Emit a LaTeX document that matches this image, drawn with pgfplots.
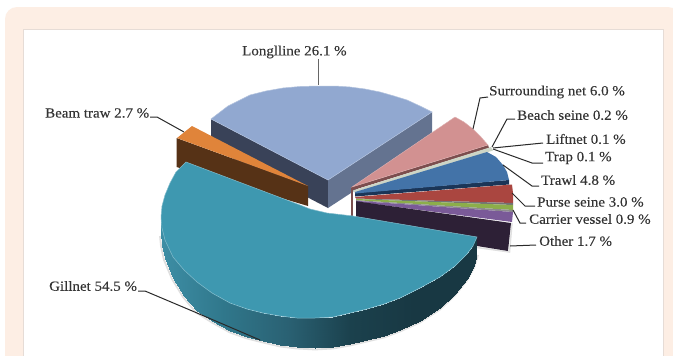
\documentclass[border=0pt]{standalone}
\usepackage{fontspec}
\setmainfont{Liberation Serif}
\usepackage{pgfplots}
\pgfplotsset{compat=1.18}
\definecolor{peach}{HTML}{FDEEE4}
\definecolor{panelline}{HTML}{E6DCD6}
\definecolor{longtop}{HTML}{91A8D0}
\definecolor{longleft}{HTML}{394258}
\definecolor{longright}{HTML}{647390}
\definecolor{beamtop}{HTML}{E0843A}
\definecolor{beamwall}{HTML}{563216}
\definecolor{surrtop}{HTML}{D29191}
\definecolor{surrwall}{HTML}{7C4E4E}
\definecolor{thinstrip}{HTML}{CDD5C6}
\definecolor{trawltop}{HTML}{4373A8}
\definecolor{trawlwall}{HTML}{1B3557}
\definecolor{pursetop}{HTML}{AA4640}
\definecolor{carrgreen}{HTML}{8CAE4A}
\definecolor{carrtop}{HTML}{7A5A98}
\definecolor{otherwall}{HTML}{2D2036}
\definecolor{gilltop}{HTML}{3E98B0}
\definecolor{labelink}{HTML}{343434}
\definecolor{leader}{HTML}{2A2A2A}
\newcommand{\lab}[3]{\node[anchor=west,inner sep=0pt,text=labelink,font=\fontsize{14}{15}\selectfont\addfontfeature{FakeBold=0.15}] at (axis cs:#1,#2) {\scalebox{1.07}[1]{#3}};}
\begin{document}
\begin{tikzpicture}
\path[use as bounding box] (0,0) rectangle (673pt,356pt);
\begin{axis}[
  at={(0,0)},anchor=south west,
  scale only axis,width=673pt,height=356pt,
  xmin=0,xmax=673,ymin=0,ymax=356,y dir=reverse,
  hide axis,
  colormap={gillside}{rgb255=(61,142,165) rgb255=(48,119,139) rgb255=(42,97,115) rgb255=(27,65,77) rgb255=(24,56,67) rgb255=(24,56,67)},
  point meta min=161,point meta max=477,
]
% card and panel
\fill[white] (0,0) rectangle (673,356);
\fill[peach,rounded corners=12pt] (5,7) rectangle (680,380);
\fill[white,draw=panelline,line width=0.8pt] (23,29) rectangle (663,370);

% Longline
\addplot[fill=longleft,draw=none] coordinates {(211,119)(328,180)(328,208)(211,147)} --cycle;
\addplot[fill=longright,draw=none] coordinates {(328,180)(432,112)(432,140)(328,208)} --cycle;
\addplot[fill=longtop,draw=longtop!70!white,line width=0.5pt] coordinates {(328,180)(211,119)(228,106)(250,95)(266,91)(283,88)(300,86.5)(318,86)(335,86)(350,87)(365,89)(380,92)(394,96)(407,100)(420,106)(432,112)} --cycle;

% Surrounding net and its wall
\addplot[fill=surrwall,draw=none] coordinates {(350.5,187)(353,187)(353,217)(350.5,217)} --cycle;
\addplot[fill=surrwall,draw=none] coordinates {(352,187)(488,145)(489,148)(352,190.5)} --cycle;
\addplot[fill=surrtop,draw=surrtop!70!white,line width=0.4pt] coordinates {(352,187)(455,117)(464,122)(473,129)(481,137)(488,145)} --cycle;
% Beach seine, liftnet, trap
\addplot[fill=thinstrip,draw=none] coordinates {(353,190.5)(491,147)(493,150.5)(354,192.5)} --cycle;

% Trawl
\addplot[fill=trawlwall,draw=none] coordinates {(355,193)(509,180)(509,184.5)(355,196.5)} --cycle;
\addplot[fill=trawltop,draw=none] coordinates {(355,192)(487,152)(496,157)(503,165)(507,172)(509,180)(355,193.5)} --cycle;

% Purse seine
\addplot[fill=pursetop,draw=none] coordinates {(355,197)(512,184.5)(513,193)(513,203)(356,198.5)} --cycle;
\addplot[fill=black!55,draw=none] coordinates {(356,198.5)(513,203)(513,205)(356,199)} --cycle;
% Carrier vessel
\addplot[fill=carrgreen,draw=none] coordinates {(356,199)(513,205)(513,210)(356,200.2)} --cycle;
\addplot[fill=black!45,draw=none] coordinates {(356,200.2)(513,210)(513,212)(356,200.8)} --cycle;
\addplot[fill=carrtop,draw=none] coordinates {(356,200.8)(513,212)(512,222)(356,201.6)} --cycle;
% Other
\addplot[draw=black!12,line width=1.5pt] coordinates {(512,223)(509.5,252)(477,247.5)};
\addplot[fill=otherwall,draw=none] coordinates {(356,201.2)(511,223)(508,251)(477,246)(356,225)} --cycle;

% Beam trawl
\addplot[fill=beamwall,draw=none] coordinates {(176.5,138)(308,186)(308,206)(176.5,167)} --cycle;
\addplot[fill=beamtop,draw=none] coordinates {(192,126)(177,138)(308,186)} --cycle;

% Gillnet: soft edge below the wall
\addplot[draw=black!12,line width=1.8pt] coordinates {(160,236)(161,246)(164,260)(172,279)(183,297)(196,312.5)(212,322.5)(230,332.5)(247,338.5)(263,342.5)(280,346.5)(297,348.5)(315,349.5)(333,348.5)(350,345.5)(367,341.5)(384,337.5)(400,331.5)(420,322.5)(440,309.5)(455,295.5)(467,280.5)(474,268)(478,255)};
% Gillnet wall, shaded from left to right
\addplot[patch,patch type=rectangle,shader=interp,point meta=x] coordinates {
(161,217)(162,228)(162,245)(161,232)
(162,228)(165,240)(165,258)(162,245)
(165,240)(173,257)(173,278)(165,258)
(173,257)(184,270)(184,296)(173,278)
(184,270)(197,282)(197,311)(184,296)
(197,282)(212,293)(212,321)(197,311)
(212,293)(230,303)(230,331)(212,321)
(230,303)(247,309)(247,337)(230,331)
(247,309)(263,313)(263,341)(247,337)
(263,313)(280,316)(280,345)(263,341)
(280,316)(297,318)(297,347)(280,345)
(297,318)(315,318)(315,348)(297,347)
(315,318)(333,317)(333,347)(315,348)
(333,317)(350,313)(350,344)(333,347)
(350,313)(367,309)(367,340)(350,344)
(367,309)(384,304)(384,336)(367,340)
(384,304)(400,298)(400,330)(384,336)
(400,298)(420,288)(420,321)(400,330)
(420,288)(440,277)(440,308)(420,321)
(440,277)(455,266)(455,294)(440,308)
(455,266)(467,254)(467,279)(455,294)
(467,254)(473,246)(473,268)(467,279)
(473,246)(477,237)(476,258)(473,268)
};
% Gillnet top
\addplot[fill=gilltop,draw=gilltop!65!white,line width=0.5pt] coordinates {(186,162)(176,172)(170,183)(165,195)(162,206)(161,217)(162,228)(165,240)(173,257)(184,270)(197,282)(212,293)(230,303)(247,309)(263,313)(280,316)(297,318)(315,318)(333,317)(350,313)(367,309)(384,304)(400,298)(420,288)(440,277)(455,266)(467,254)(473,246)(477,237)(353,216)(327,213)(310,209)(300,205)} --cycle;

% Leader lines
\addplot[draw=black!60,line width=1pt] coordinates {(318,59)(318,85)};
\addplot[draw=leader,line width=1pt] coordinates {(150,117)(157,117)(184,132)};
\addplot[draw=leader,line width=1pt] coordinates {(488,97)(480,98)(473,129)};
\addplot[draw=leader,line width=1pt] coordinates {(515,119)(507,119)(492,147)};
\addplot[draw=leader,line width=1pt] coordinates {(543,143)(493,148)};
\addplot[draw=leader,line width=1pt] coordinates {(543,163)(532,163)(493,149)};
\addplot[draw=leader,line width=1pt] coordinates {(539,186)(532,186)(503,165)};
\addplot[draw=leader,line width=1pt] coordinates {(535,206)(525,206)(512,193)};
\addplot[draw=leader,line width=1pt] coordinates {(526,223)(520,223)(513,210)};
\addplot[draw=leader,line width=1pt] coordinates {(536,245)(510,246)};
\addplot[draw=leader,line width=1pt] coordinates {(138,291)(145,291)(197,313)(260,340)};

% Labels
\lab{242}{52}{Longlline 26.1 \%}
\lab{45}{113}{Beam traw 2.7 \%}
\lab{489}{92}{Surrounding net 6.0 \%}
\lab{517}{115}{Beach seine 0.2 \%}
\lab{546}{139}{Liftnet 0.1 \%}
\lab{545}{158}{Trap 0.1 \%}
\lab{541}{180}{Trawl 4.8 \%}
\lab{537}{202}{Purse seine 3.0 \%}
\lab{529}{219}{Carrier vessel 0.9 \%}
\lab{539}{241}{Other 1.7 \%}
\lab{49}{286}{Gillnet 54.5 \%}
\end{axis}
\end{tikzpicture}
\end{document}
